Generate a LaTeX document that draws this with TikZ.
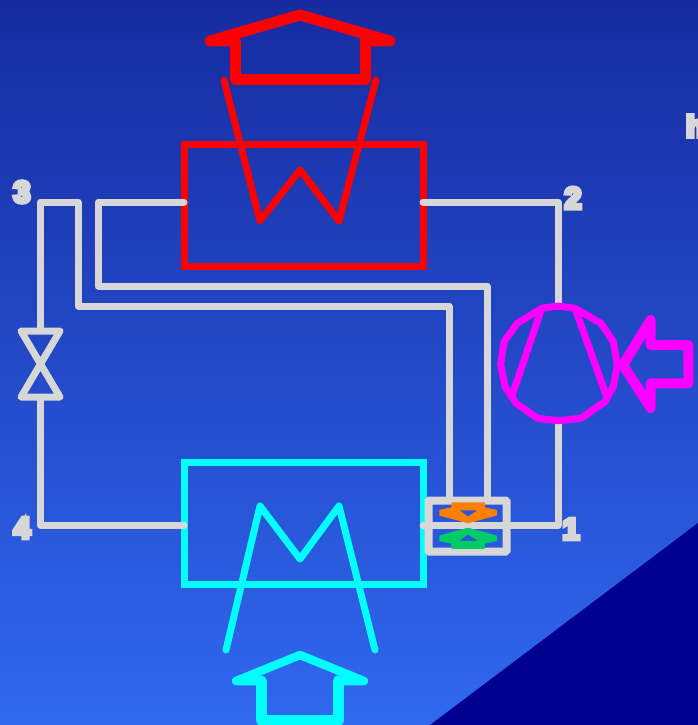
\documentclass[tikz,border=0pt]{standalone}
\usepackage{fontspec}
\newfontfamily\labfont[FakeBold=14]{Liberation Sans Bold}
\definecolor{pipe}{RGB}{215,215,215}
\definecolor{bgtop}{RGB}{22,43,160}
\definecolor{bgbot}{RGB}{48,104,240}
\definecolor{corner}{RGB}{0,0,144}
\definecolor{mag}{RGB}{255,0,255}
\definecolor{aqua}{RGB}{0,255,255}
\definecolor{hxorange}{RGB}{255,128,0}
\definecolor{hxgreen}{RGB}{0,204,102}
\tikzset{
  x=1pt,y=-1pt,
  pipeline/.style={draw=pipe,line width=7pt,line cap=round,line join=round},
  hxbox/.style={draw,rectangle,line width=7pt,inner sep=0pt,outer sep=0pt,minimum width=239pt,minimum height=122pt},
  strokes/.style={line cap=round,line join=round},
  lab/.style={text=pipe,font=\labfont\fontsize{30}{30}\selectfont,inner sep=0pt},
  wing/.style={even odd rule,draw,line width=1.5pt,line join=round},
}
\newcommand{\wingpath}{(440,510.5) -- (452,508) -- (452,503) -- (484,503) -- (484,508) -- (496,510.5) -- (496,515) -- (468,522.5) -- (440,515) -- cycle
  (457,509.5) -- (480,509.5) -- (468,517.5) -- cycle}
\begin{document}
\begin{tikzpicture}
\useasboundingbox (0,0) rectangle (698,725);
\clip (0,0) rectangle (698,725);
\shade[top color=bgtop,bottom color=bgbot] (0,0) rectangle (698,725);
\fill[corner] (430,725) -- (698,523) -- (698,725) -- cycle;
% heat exchangers
\node[hxbox,draw=red] (cond) at (303.5,205.5) {};
\node[hxbox,draw=aqua] (evap) at (303.5,523) {};
% coils
\draw[red,line width=7pt,strokes] (224,80) -- (260,221) -- (300,170) -- (339,221) -- (376,80);
\draw[aqua,line width=7pt,strokes] (226,650) -- (260,506) -- (300,559) -- (339,506) -- (375,650);
% heat arrows
\draw[red,line width=11pt,strokes] (235,41) -- (210,41) -- (300,15) -- (390,41) -- (365,41);
\draw[red,line width=11pt,strokes] (235,41) -- (235,79) -- (365,79) -- (365,41);
\draw[aqua,line width=8.5pt,strokes] (261,681) -- (236,681) -- (300,655) -- (364,681) -- (338,681);
\draw[aqua,line width=11pt,strokes] (261,681) -- (261,720) -- (338,720) -- (338,681);
% internal exchanger
\node[draw=pipe,line width=8pt,rectangle,rounded corners=1pt,inner sep=0pt,outer sep=0pt,minimum width=78pt,minimum height=51pt] (ihx) at (467.5,526) {};
% junction coordinates
\coordinate (cL) at (cond.west |- 0,202);
\coordinate (cR) at (cond.east |- 0,202);
\coordinate (eL) at (evap.west |- 0,525);
\coordinate (comptop) at (558,306);
\coordinate (compbot) at (558,421);
\coordinate (ihxA) at (449,497);
\coordinate (ihxB) at (487,497);
\node[inner sep=0pt,minimum size=0pt] (valvetop) at (40,331) {};
\node[inner sep=0pt,minimum size=0pt] (valvebot) at (40,397) {};
% pipes
\draw[pipeline] (cR) -- (558,202) -- (comptop);
\draw[pipeline] (cL) -- (98,202) -- (98,286) -- (487,286) -- (ihxB);
\draw[pipeline] (valvetop) -- (40,202) -- (78,202) -- (78,306) -- (449,306) -- (ihxA);
\draw[pipeline] (valvebot) -- (40,525) -- (eL);
\draw[pipeline] (423,525.5) -- (558,525.5) -- (compbot);
% valve
\draw[pipeline] (valvetop) -- (21,331) -- (60,397) -- (21,397) -- (60,331) -- cycle;
% wings
\path[wing,fill=hxorange,draw=hxorange] \wingpath;
\begin{scope}[yshift=-1051pt,yscale=-1]
\path[wing,fill=hxgreen,draw=hxgreen] \wingpath;
\end{scope}
% compressor
\draw[mag,line width=7pt,strokes] (541.7,308.3) -- (558.3,306) -- (575,308.3) -- (601,323.3) -- (613.3,341.7) -- (617.3,365) -- (613.3,386.7) -- (605,401.7) -- (581,418.3) -- (558.3,420.7) -- (537.7,418.3) -- (516,403.3) -- (505,386.7) -- (500.7,365) -- (504,341.7) -- (517.3,323.3) -- cycle;
\draw[mag,line width=7pt,strokes] (541.7,308.3) -- (511.7,396.7);
\draw[mag,line width=7pt,strokes] (575,308.3) -- (606.7,396.7);
\draw[mag,line width=10pt,strokes] (650.7,320) -- (650.7,345) -- (688.3,345) -- (688.3,383.3) -- (650.7,383.3) -- (650.7,408) -- (623,365) -- cycle;
% labels
\node[lab] (n3) at (22,192) {3};
\node[lab] (n2) at (573,198) {2};
\node[lab] (n1) at (571,529) {1};
\node[lab] (n4) at (22,528) {4};
\node[lab,anchor=west] (nh) at (686,126) {h};
\end{tikzpicture}
\end{document}
